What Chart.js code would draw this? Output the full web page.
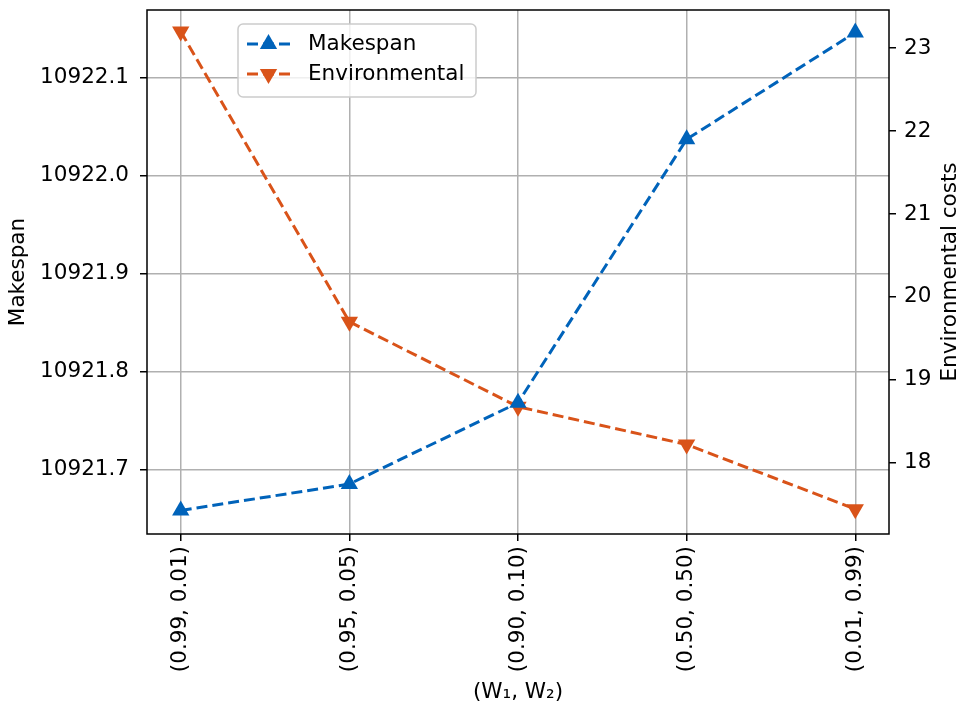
<!DOCTYPE html>
<html lang="en">
<head>
<meta charset="UTF-8">
<title>Makespan vs Environmental costs</title>
<script src="https://cdn.jsdelivr.net/npm/chart.js@4.4.1/dist/chart.umd.min.js"></script>
<style>
  body { margin: 0; background: #ffffff; }
</style>
</head>
<body>
<canvas id="chart" width="962" height="711"></canvas>
<script>
// datos
const weightLabels = ['(0.99, 0.01)', '(0.95, 0.05)', '(0.90, 0.10)', '(0.50, 0.50)', '(0.01, 0.99)'];
const makespan = [10921.658, 10921.685, 10921.768, 10922.037, 10922.146];
const environmental = [23.2, 19.7, 18.675, 18.22, 17.44];
const makespanTicks = [10921.7, 10921.8, 10921.9, 10922.0, 10922.1];
const envTicks = [18, 19, 20, 21, 22, 23];

const BLUE = '#0063ba';
const ORANGE = '#d95319';
const FONT = { family: 'DejaVu Sans', size: 21.5 };
const FONT_CSS = '21.5px "DejaVu Sans"';

// marco del area + leyenda + titulo derecho
const framePlugin = {
  id: 'frame',
  afterDatasetsDraw(chart) {
    const { ctx } = chart;
    ctx.save();
    // leyenda
    const lx = 238, ly = 24, lw = 238, lh = 73;
    ctx.beginPath();
    ctx.roundRect(lx, ly, lw, lh, 5);
    ctx.fillStyle = 'rgba(255,255,255,0.8)';
    ctx.fill();
    ctx.strokeStyle = '#cccccc';
    ctx.lineWidth = 1.5;
    ctx.stroke();
    chart.data.datasets.forEach((ds, i) => {
      const y = ly + 20 + i * 30;
      ctx.beginPath();
      ctx.setLineDash([11, 5]);
      ctx.strokeStyle = ds.borderColor;
      ctx.lineWidth = 3;
      ctx.moveTo(247, y);
      ctx.lineTo(290, y);
      ctx.stroke();
      ctx.setLineDash([]);
      ctx.fillStyle = ds.borderColor;
      Chart.helpers.drawPoint(ctx, {
        pointStyle: 'triangle', rotation: ds.pointRotation, radius: ds.pointRadius,
        borderWidth: 0
      }, 268.5, y);
      ctx.fillStyle = '#000';
      ctx.font = FONT_CSS;
      ctx.textBaseline = 'middle';
      ctx.textAlign = 'left';
      ctx.fillText(ds.label, 308, y);
    });
    ctx.restore();
  },
  afterDraw(chart) {
    const { ctx, chartArea: a } = chart;
    ctx.save();
    ctx.strokeStyle = '#000';
    ctx.lineWidth = 1.5;
    ctx.strokeRect(a.left, a.top, a.right - a.left, a.bottom - a.top);
    // titulo eje derecho (leido de abajo hacia arriba)
    ctx.translate(950, (a.top + a.bottom) / 2);
    ctx.rotate(-Math.PI / 2);
    ctx.fillStyle = '#000';
    ctx.font = FONT_CSS;
    ctx.textAlign = 'center';
    ctx.textBaseline = 'middle';
    ctx.fillText('Environmental costs', 0, 0);
    ctx.restore();
  }
};

const gridOpts = { color: '#b0b0b0', lineWidth: 1.5, tickColor: '#000', tickLength: 7, tickWidth: 1.5 };

// sin relleno extra por etiquetas en los bordes
function fixWidth(w) {
  return s => { s.width = w; s.paddingTop = 0; s.paddingBottom = 0; };
}

new Chart(document.getElementById('chart'), {
  type: 'line',
  data: {
    datasets: [
      {
        label: 'Makespan',
        data: makespan.map((v, i) => ({ x: i, y: v })),
        yAxisID: 'y',
        borderColor: BLUE,
        backgroundColor: BLUE,
        borderWidth: 3,
        borderDash: [11, 5],
        pointStyle: 'triangle',
        pointRadius: 10,
        pointRotation: 0,
        pointBorderWidth: 0,
        tension: 0
      },
      {
        label: 'Environmental',
        data: environmental.map((v, i) => ({ x: i, y: v })),
        yAxisID: 'y2',
        borderColor: ORANGE,
        backgroundColor: ORANGE,
        borderWidth: 3,
        borderDash: [11, 5],
        pointStyle: 'triangle',
        pointRadius: 10,
        pointRotation: 180,
        pointBorderWidth: 0,
        tension: 0
      }
    ]
  },
  options: {
    responsive: false,
    animation: false,
    devicePixelRatio: 1,
    layout: { padding: { top: 9, left: 0, right: 0, bottom: 0 } },
    plugins: { legend: { display: false }, tooltip: { enabled: false } },
    scales: {
      x: {
        type: 'linear',
        position: 'bottom',
        min: -0.2,
        max: 4.2,
        afterBuildTicks: s => { s.ticks = weightLabels.map((_, i) => ({ value: i })); },
        afterFit: s => { s.height = 177; s.paddingLeft = 0; s.paddingRight = 0; },
        grid: gridOpts,
        border: { display: false },
        ticks: {
          autoSkip: false,
          minRotation: 90,
          maxRotation: 90,
          padding: 5,
          color: '#000',
          font: FONT,
          callback: v => weightLabels[v]
        },
        title: { display: true, text: '(W\u2081, W\u2082)', color: '#000', font: FONT, padding: { top: 2, bottom: 6 } }
      },
      y: {
        position: 'left',
        min: 10921.634,
        max: 10922.169,
        afterBuildTicks: s => { s.ticks = makespanTicks.map(v => ({ value: v })); },
        afterFit: fixWidth(147),
        grid: gridOpts,
        border: { display: false },
        ticks: { color: '#000', font: FONT, padding: 11, callback: v => v.toFixed(1) },
        title: { display: true, text: 'Makespan', color: '#000', font: FONT, padding: { top: 6, bottom: 0 } }
      },
      y2: {
        position: 'right',
        min: 17.14,
        max: 23.46,
        afterBuildTicks: s => { s.ticks = envTicks.map(v => ({ value: v })); },
        afterFit: fixWidth(73),
        grid: Object.assign({}, gridOpts, { drawOnChartArea: false }),
        border: { display: false },
        ticks: { color: '#000', font: FONT, padding: 8, callback: v => String(v) }
      }
    }
  },
  plugins: [framePlugin]
});
</script>
</body>
</html>
